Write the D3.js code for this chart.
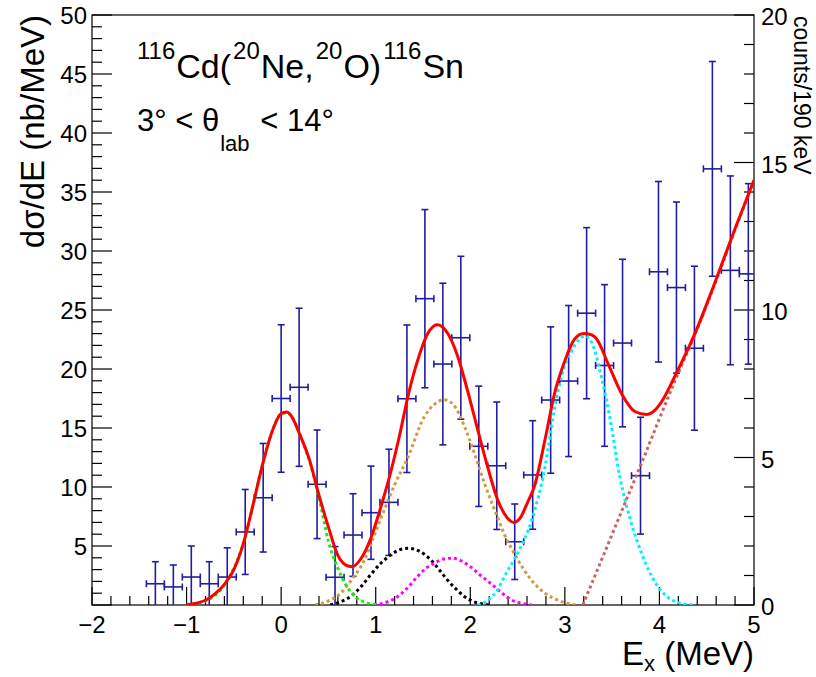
<!DOCTYPE html>
<html><head><meta charset="utf-8">
<script src="https://cdn.jsdelivr.net/npm/d3@7/dist/d3.min.js"></script>
<style>html,body{margin:0;padding:0;background:#fff}svg{display:block}</style>
</head><body><svg id="c" width="816" height="677"></svg>
<script>
// ---------- data ----------
const binCenters = [-1.33,-1.14,-0.95,-0.76,-0.57,-0.38,-0.19,0.00,0.19,0.38,0.57,0.76,0.95,1.14,1.33,1.52,1.71,1.90,2.09,2.28,2.47,2.66,2.85,3.04,3.23,3.42,3.61,3.80,3.99,4.18,4.37,4.56,4.75,4.94];
const xsec = [1.80,1.53,2.37,1.80,2.37,6.19,9.09,17.50,18.45,10.23,2.35,5.93,7.82,8.70,17.48,25.96,20.42,22.65,13.45,11.80,5.36,11.02,17.37,18.98,24.73,20.30,22.20,10.96,28.24,26.90,21.76,36.96,28.36,28.06];
const xsecErr = [1.87,1.86,2.63,1.87,2.48,3.60,4.60,6.25,6.70,4.60,2.60,3.50,3.95,4.50,6.25,7.55,6.85,6.90,5.10,5.40,3.20,4.60,6.20,6.40,7.25,6.85,7.10,4.95,7.65,7.25,6.95,9.10,8.00,7.65];
const binHalfWidth = 0.095;

const fitTotal = [[-1.00,0.0],[-0.90,0.15],[-0.80,0.40],[-0.70,0.95],[-0.60,1.75],[-0.50,3.0],[-0.40,5.2],[-0.30,8.4],[-0.20,11.8],[-0.10,14.6],[0.00,16.2],[0.06,16.35],[0.10,16.1],[0.20,14.4],[0.30,12.3],[0.40,9.3],[0.50,6.6],[0.60,4.2],[0.68,3.4],[0.75,3.25],[0.85,4.0],[0.95,5.7],[1.05,8.2],[1.15,11.0],[1.25,14.3],[1.35,18.0],[1.45,20.9],[1.55,23.0],[1.65,23.75],[1.70,23.6],[1.77,22.9],[1.87,21.0],[1.97,18.2],[2.08,14.8],[2.18,11.8],[2.29,8.9],[2.39,7.4],[2.46,7.0],[2.53,7.4],[2.60,8.6],[2.68,10.1],[2.79,14.0],[2.89,17.9],[3.00,20.7],[3.10,22.5],[3.20,23.0],[3.28,22.9],[3.33,22.6],[3.46,20.4],[3.60,17.9],[3.74,16.4],[3.86,16.15],[3.95,16.5],[4.02,17.2],[4.17,19.5],[4.38,23.1],[4.59,27.4],[4.80,31.9],[5.00,36.0]];
const fitGreen = [[-1.00,0.04],[-0.80,0.35],[-0.60,1.7],[-0.40,5.2],[-0.20,11.8],[-0.10,14.6],[0.00,16.2],[0.06,16.3],[0.10,16.1],[0.20,14.4],[0.30,12.2],[0.40,9.1],[0.50,5.4],[0.60,3.1],[0.70,1.5],[0.80,0.6],[0.90,0.2],[1.00,0.05]];
const fitBlack = [[0.52,0.0],[0.62,0.25],[0.74,0.75],[0.85,1.6],[0.95,2.6],[1.05,3.5],[1.16,4.25],[1.26,4.7],[1.35,4.8],[1.45,4.6],[1.58,3.85],[1.68,2.9],[1.76,2.1],[1.85,1.35],[1.94,0.7],[2.03,0.3],[2.12,0.1],[2.20,0.0]];
const fitMagenta = [[0.98,0.0],[1.10,0.2],[1.23,0.7],[1.33,1.4],[1.44,2.4],[1.53,3.1],[1.62,3.55],[1.72,3.9],[1.81,3.97],[1.90,3.75],[2.00,3.25],[2.11,2.5],[2.22,1.8],[2.33,1.05],[2.43,0.45],[2.54,0.15],[2.65,0.0]];
const fitGold = [[0.36,0.0],[0.50,0.35],[0.63,1.0],[0.75,2.2],[0.88,3.8],[0.98,5.8],[1.09,8.05],[1.20,10.2],[1.34,12.5],[1.51,15.9],[1.62,17.0],[1.72,17.4],[1.82,17.0],[1.94,15.1],[2.05,12.7],[2.15,10.3],[2.26,8.0],[2.36,6.0],[2.47,4.3],[2.57,2.95],[2.68,1.8],[2.79,1.0],[2.90,0.5],[3.00,0.2],[3.12,0.0]];
const fitCyan = [[2.08,0.0],[2.19,0.42],[2.29,1.3],[2.36,2.4],[2.50,4.4],[2.65,7.2],[2.79,11.7],[2.89,16.6],[2.98,19.8],[3.07,21.5],[3.15,22.5],[3.21,22.8],[3.28,22.3],[3.39,19.2],[3.48,15.7],[3.58,10.9],[3.69,7.3],[3.81,4.4],[3.92,2.4],[4.06,0.85],[4.20,0.2],[4.36,0.0]];
const fitBackground = [[3.19,0.0],[3.49,5.8],[3.67,9.3],[3.83,12.4],[3.99,15.6],[4.17,19.1],[4.38,23.0],[4.59,27.3],[4.80,31.8],[5.00,36.0]];

const xTickValues = [-2,-1,0,1,2,3,4,5];
const xTickLabels = ["\u22122","\u22121","0","1","2","3","4","5"];
const yTickValues = [5,10,15,20,25,30,35,40,45,50];
const yTickLabels = ["5","10","15","20","25","30","35","40","45","50"];
const rTickValues = [0,5,10,15,20];
const rTickLabels = ["0","5","10","15","20"];

// ---------- layout ----------
const L=92, R=754, T=15, B=605;
const svg = d3.select("#c");
const FONT = "'Liberation Sans', Arial, Helvetica, sans-serif";
const x = d3.scaleLinear().domain([-2,5]).range([L,R]);
const y = d3.scaleLinear().domain([0,50]).range([B,T]);
const yr = d3.scaleLinear().domain([0,20]).range([B,T]);

svg.append("rect").attr("width",816).attr("height",677).attr("fill","#fff");
svg.append("defs").append("clipPath").attr("id","clip")
  .append("rect").attr("x",L).attr("y",T).attr("width",R-L).attr("height",B-T);

// frame
svg.append("rect").attr("x",L).attr("y",T).attr("width",R-L).attr("height",B-T)
  .attr("fill","none").attr("stroke","#000").attr("stroke-width",1.2);

const ax = svg.append("g").attr("stroke","#000").attr("stroke-width",1.2);
d3.range(-20,51,2).forEach(i=>{
  const v=i/10, major = (i%10===0);
  ax.append("line").attr("x1",x(v)).attr("x2",x(v)).attr("y1",B).attr("y2",B-(major?18:9));
});
d3.range(0,51,1).forEach(v=>{
  const major = (v%5===0);
  ax.append("line").attr("x1",L).attr("x2",L+(major?20:10)).attr("y1",y(v)).attr("y2",y(v));
});
d3.range(0,21,1).forEach(v=>{
  const major = (v%5===0);
  ax.append("line").attr("x1",R).attr("x2",R-(major?20:10)).attr("y1",yr(v)).attr("y2",yr(v));
});

// tick labels
const tl = svg.append("g").attr("font-family",FONT).attr("font-size",24).attr("fill","#000");
xTickValues.forEach((v,i)=>{
  tl.append("text").attr("x",x(v)).attr("y",633).attr("text-anchor","middle").text(xTickLabels[i]);
});
yTickValues.forEach((v,i)=>{
  tl.append("text").attr("x",87).attr("y",y(v)+9).attr("text-anchor","end").text(yTickLabels[i]);
});
rTickValues.forEach((v,i)=>{
  tl.append("text").attr("x",761).attr("y",yr(v)+10).attr("text-anchor","start").text(rTickLabels[i]);
});

// axis titles
const xt = svg.append("text").attr("font-family",FONT).attr("font-size",33)
  .attr("x",754).attr("y",665).attr("text-anchor","end");
xt.append("tspan").text("E");
xt.append("tspan").attr("font-size",22).attr("dy",6).text("x");
xt.append("tspan").attr("dy",-6).text(" (MeV)");

svg.append("text").attr("font-family",FONT).attr("font-size",33)
  .attr("transform","translate(44,15) rotate(-90)").attr("text-anchor","end")
  .text("d\u03c3/dE (nb/MeV)");

svg.append("text").attr("font-family",FONT).attr("font-size",23)
  .attr("transform","translate(794,16) rotate(90)").attr("text-anchor","start")
  .text("counts/190 keV");

// title
const tt = svg.append("text").attr("font-family",FONT).attr("font-size",34).attr("x",137).attr("y",78);
const parts = [["116",1],["Cd(",0],["20",1],["Ne,",0],["20",1],["O)",0],["116",1],["Sn",0]];
parts.forEach(([s,sup],i)=>{
  const t = tt.append("tspan").text(s);
  if(sup){ t.attr("font-size",24).attr("dy",i===0?-19:-19).attr("dx",i===0?0:2); }
  else { t.attr("dy",19).attr("dx",1); }
});
tt.select("tspan").attr("dy",-19);
tt.attr("y",78);

const th = svg.append("text").attr("font-family",FONT).attr("font-size",31).attr("x",137).attr("y",131);
th.append("tspan").text("3\u00b0 < \u03b8");
th.append("tspan").attr("font-size",22).attr("dy",20).attr("dx",1).text("lab");
th.append("tspan").attr("dy",-20).attr("dx",2).text(" < 14\u00b0");

// ---------- data points ----------
const pg = svg.append("g").attr("clip-path","url(#clip)").attr("stroke","#1e1e9e").attr("stroke-width",1.6).attr("fill","none");
const cap = 3.5;
binCenters.forEach((c,i)=>{
  const v = xsec[i], e = xsecErr[i];
  const cx = x(c), cy = y(v);
  const top = y(v+e), bot = y(Math.max(v-e, -1));
  pg.append("line").attr("x1",cx).attr("x2",cx).attr("y1",top).attr("y2",bot);
  pg.append("line").attr("x1",cx-cap).attr("x2",cx+cap).attr("y1",top).attr("y2",top);
  if (v-e > 0) pg.append("line").attr("x1",cx-cap).attr("x2",cx+cap).attr("y1",bot).attr("y2",bot);
  const xl = x(c-binHalfWidth), xr = x(c+binHalfWidth);
  pg.append("line").attr("x1",xl).attr("x2",xr).attr("y1",cy).attr("y2",cy);
  pg.append("line").attr("x1",xl).attr("x2",xl).attr("y1",cy-cap).attr("y2",cy+cap);
  pg.append("line").attr("x1",xr).attr("x2",xr).attr("y1",cy-cap).attr("y2",cy+cap);
});

// ---------- fit curves ----------
const line = d3.line().x(d=>x(d[0])).y(d=>y(d[1])).curve(d3.curveMonotoneX);
const cg = svg.append("g").attr("clip-path","url(#clip)").attr("fill","none");
const comps = [
  [fitGold,"#cf9a40"],[fitBlack,"#000000"],[fitMagenta,"#ff00ff"],
  [fitCyan,"#00f0ff"],[fitBackground,"#cf6060"],[fitGreen,"#11ee11"]
];
comps.forEach(([d,col])=>{
  cg.append("path").attr("d",line(d)).attr("stroke",col).attr("stroke-width",3).attr("stroke-dasharray","3,3");
});
cg.append("path").attr("d",line(fitTotal)).attr("stroke","#ff0000").attr("stroke-width",3);
</script></body></html>
